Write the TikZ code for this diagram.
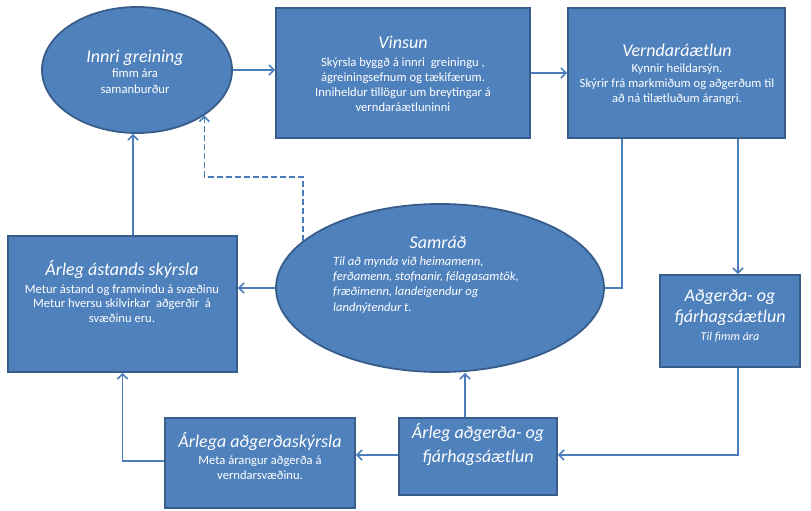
\documentclass[tikz,border=0pt]{standalone}
\usepackage{fontspec}
\setmainfont{Carlito}
\usetikzlibrary{arrows.meta,shapes.geometric}
\definecolor{boxfill}{HTML}{4F81BD}
\definecolor{boxline}{HTML}{385D8A}
\definecolor{conncol}{HTML}{4A7EBB}
\newcommand{\ttlA}[1]{{\fontsize{18}{21}\selectfont\itshape #1}}
\begin{document}
\begin{tikzpicture}[x=1pt,y=-1pt,
  shapebox/.style={draw=boxline, fill=boxfill, line width=1.8pt, rectangle, inner sep=0pt},
  shapeell/.style={draw=boxline, fill=boxfill, line width=1.8pt, ellipse, inner sep=0pt},
  txt/.style={text=white, align=center, inner sep=0pt, anchor=base, font=\fontsize{12.6}{14.5}\selectfont},
  conn/.style={draw=conncol, line width=1.6pt, -{Straight Barb[length=5pt,width=10pt,line width=1.6pt]}},
  connplain/.style={draw=conncol, line width=1.6pt},
  conndash/.style={conn, dash pattern=on 6pt off 3pt}]
\useasboundingbox (0,0) rectangle (811,511);
% shapes
\node[shapeell, minimum width=190pt, minimum height=126pt] (innri) at (137,70) {};
\node[shapebox, minimum width=254pt, minimum height=130pt] (vinsun) at (403,73) {};
\node[shapebox, minimum width=217pt, minimum height=130pt] (verndar) at (676.5,73) {};
\node[shapebox, minimum width=229pt, minimum height=136pt] (astand) at (122.5,304) {};
\node[shapeell, minimum width=328pt, minimum height=168pt] (samrad) at (440,288) {};
\node[shapebox, minimum width=140pt, minimum height=92pt] (adg) at (730,321) {};
\node[shapebox, minimum width=158pt, minimum height=77pt] (aaf) at (478,456.5) {};
\node[shapebox, minimum width=190pt, minimum height=90pt] (aska) at (260,463) {};
% texts (anchor = baseline of the last line)
\node[txt, font=\fontsize{12.6}{15.5}\selectfont] (innriT) at (135,93) {\ttlA{Innri greining}\\[-0.5pt]fimm ára\\samanburður};
\node[txt, font=\fontsize{12.6}{15}\selectfont] (vinsunT) at (403,111) {\ttlA{Vinsun}\\[2.7pt]Skýrsla byggð á innri\ \ greiningu ,\\ágreiningsefnum og tækifærum.\\Inniheldur tillögur um breytingar á\\verndaráætluninni};
\node[txt] (verndarT) at (677,102) {\ttlA{Verndaráætlun}\\[1.5pt]Kynnir heildarsýn.\\Skýrir frá markmiðum og aðgerðum til\\að ná tilætluðum árangri.};
\node[txt] (astandT) at (122,322) {\ttlA{Árleg ástands skýrsla}\\[3.5pt]Metur ástand og framvindu á svæðinu\\Metur hversu skilvirkar\ \ aðgerðir\ \ á\\svæðinu eru.};
\node[txt] (samradT) at (438,248) {\ttlA{Samráð}};
\node[txt, align=left, anchor=base west, font=\fontsize{12.6}{15.3}\selectfont\itshape] (samradB) at (333,311) {Til að mynda við heimamenn,\\ferðamenn, stofnanir, félagasamtök,\\fræðimenn, landeigendur og\\landnýtendur t.};
\node[txt, font=\fontsize{18}{21}\selectfont\itshape] (adgT) at (730,340) {Aðgerða- og\\fjárhagsáætlun\\[-3pt]\fontsize{12}{14}\selectfont Til fimm ára};
\node[txt, font=\fontsize{12.6}{15}\selectfont] (askaT) at (260,479) {\ttlA{Árlega aðgerðaskýrsla}\\[2pt]Meta árangur aðgerða á\\verndarsvæðinu.};
\node[txt, font=\fontsize{18}{24}\selectfont\itshape] (aafT) at (478,462) {Árleg aðgerða- og\\fjárhagsáætlun};
% connectors
\draw[conn] (innri.east) -- (innri.east -| vinsun.west);
\draw[conn] (vinsun.east) -- (vinsun.east -| verndar.west);
\draw[conn] ([xshift=8pt]adg.north |- verndar.south) -- ([xshift=8pt]adg.north);
\draw[connplain] ([xshift=-54.5pt]verndar.south) |- (samrad.east);
\draw[conn] (samrad.west) -- (samrad.west -| astand.east);
\draw[conn] ([xshift=10.5pt]astand.north) -- ([xshift=10.5pt]astand.north |- innri.south);
\draw[conndash] (samrad.161.4) -- ++(0,-64) -| (innri.-34.3);
\draw[conn] ([xshift=8pt]adg.south) |- ([yshift=1.5pt]aaf.east);
\draw[conn] ([xshift=-13pt]aaf.north) -- ([xshift=-13pt]aaf.north |- samrad.south);
\draw[conn] ([yshift=1.5pt]aaf.west) -- ([yshift=1.5pt]aaf.west -| aska.east);
\draw[conn] ([yshift=2pt]aska.west) -| (astand.south);
\end{tikzpicture}
\end{document}
